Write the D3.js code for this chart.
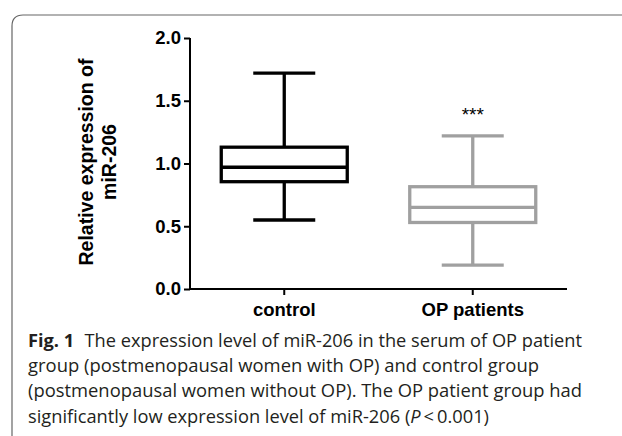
<!DOCTYPE html>
<html>
<head>
<meta charset="utf-8">
<script src="https://cdn.jsdelivr.net/npm/d3@7"></script>
<style>
  body { margin:0; background:#fff; }
  svg { display:block; }
</style>
</head>
<body>
<div id="viz-container"></div>
<script>
// data
var groups = ["control", "OP patients"];
var whiskerMin = [0.55, 0.19];
var q1 = [0.855, 0.53];
var medians = [0.97, 0.65];
var q3 = [1.13, 0.815];
var whiskerMax = [1.72, 1.22];
var groupColors = ["#000000", "#a0a0a0"];
var yTicks = [0, 0.5, 1.0, 1.5, 2.0];
var sigLabels = ["", "***"];
var caption = [
  "The expression level of miR-206 in the serum of OP patient",
  "group (postmenopausal women with OP) and control group",
  "(postmenopausal women without OP). The OP patient group had",
  "significantly low expression level of miR-206 ("
];

var W = 622, H = 436;
var svg = d3.select('#viz-container')
  .append('svg')
    .attr('width', W)
    .attr('height', H);

// frame with rounded top-left corner
svg.append('path')
  .attr('d', 'M12,436 L12,26 Q12,15 23,15 L622,15')
  .attr('fill', 'none')
  .attr('stroke', '#666')
  .attr('stroke-width', 1.2);

var data = groups.map(function(g, i){
  return {name:g, min:whiskerMin[i], q1:q1[i], med:medians[i], q3:q3[i], max:whiskerMax[i], color:groupColors[i], sig:sigLabels[i]};
});

var yScale = d3.scaleLinear().domain([0, 2]).range([289, 38]);
var xScale = d3.scaleBand().domain(groups).range([190, 567]).paddingInner(0.5).paddingOuter(0.25);

var yAxis = d3.axisLeft(yScale)
  .tickValues(yTicks)
  .tickFormat(d3.format('.1f'))
  .tickSize(6)
  .tickSizeOuter(0);

var xAxis = d3.axisBottom(xScale).tickSize(6).tickSizeOuter(0);

var gy = svg.append('g')
  .attr('transform', 'translate(190,0)')
  .call(yAxis);
var gx = svg.append('g')
  .attr('transform', 'translate(0,289)')
  .call(xAxis);

[gx, gy].forEach(function(g){
  g.select('.domain').attr('stroke', '#000').attr('stroke-width', 2);
  g.selectAll('.tick line').attr('stroke', '#000').attr('stroke-width', 2);
  g.selectAll('.tick text')
    .attr('fill', '#000')
    .style('font-family', 'Liberation Sans, Arial, sans-serif')
    .style('font-weight', 'bold')
    .style('font-size', '18.5px');
});
gy.selectAll('.tick text').attr('x', -9);
gx.selectAll('.tick text').attr('y', 14);
// extend x axis line to meet y axis
gx.select('.domain').attr('d', 'M190,0H567');
gy.select('.domain').attr('d', 'M0,38V290');

// y axis title
var yt = svg.append('text')
  .attr('transform', 'translate(93,162) rotate(-90)')
  .attr('text-anchor', 'middle')
  .style('font-family', 'Liberation Sans, Arial, sans-serif')
  .style('font-weight', 'bold')
  .style('font-size', '19.5px');
yt.append('tspan').attr('x', 0).attr('y', 0).text('Relative expression of');
yt.append('tspan').attr('x', 0).attr('y', 23).text('miR-206');

// boxes
var boxW = 126, capW = 62;
var boxes = svg.selectAll('g.box')
  .data(data)
  .enter()
  .append('g')
    .attr('class', 'box')
    .attr('transform', function(d){ return 'translate(' + (xScale(d.name) + xScale.bandwidth()/2) + ',0)'; });

boxes.each(function(d){
  var g = d3.select(this);
  var sw = 3.3;
  g.append('line').attr('x1', 0).attr('x2', 0).attr('y1', yScale(d.max)).attr('y2', yScale(d.q3))
    .attr('stroke', d.color).attr('stroke-width', sw);
  g.append('line').attr('x1', 0).attr('x2', 0).attr('y1', yScale(d.q1)).attr('y2', yScale(d.min))
    .attr('stroke', d.color).attr('stroke-width', sw);
  g.append('line').attr('x1', -capW/2).attr('x2', capW/2).attr('y1', yScale(d.max)).attr('y2', yScale(d.max))
    .attr('stroke', d.color).attr('stroke-width', sw);
  g.append('line').attr('x1', -capW/2).attr('x2', capW/2).attr('y1', yScale(d.min)).attr('y2', yScale(d.min))
    .attr('stroke', d.color).attr('stroke-width', sw);
  g.append('rect').attr('x', -boxW/2).attr('width', boxW)
    .attr('y', yScale(d.q3)).attr('height', yScale(d.q1) - yScale(d.q3))
    .attr('fill', 'none').attr('stroke', d.color).attr('stroke-width', sw);
  g.append('line').attr('x1', -boxW/2).attr('x2', boxW/2).attr('y1', yScale(d.med)).attr('y2', yScale(d.med))
    .attr('stroke', d.color).attr('stroke-width', sw);
  if (d.sig) {
    g.append('text').attr('x', 0).attr('y', yScale(d.max) - 15)
      .attr('text-anchor', 'middle')
      .style('font-family', 'Liberation Sans, Arial, sans-serif')
      .style('font-size', '19px')
      .attr('fill', '#000')
      .text(d.sig);
  }
});

// caption
var cap = svg.append('g')
  .style('font-family', 'Open Sans, Noto Sans, sans-serif')
  .style('font-size', '17.5px')
  .attr('fill', '#231f20');
var lineY = [347, 372, 397, 423];
var lineW = [554, 511, 554, 461];
var t0 = cap.append('text').attr('x', 28).attr('y', lineY[0])
  .attr('textLength', lineW[0]).attr('lengthAdjust', 'spacingAndGlyphs');
t0.append('tspan').style('font-weight', 'bold').text('Fig. 1');
t0.append('tspan').attr('dx', 10).text(caption[0]);
for (var i = 1; i < caption.length; i++) {
  var t = cap.append('text').attr('x', 28).attr('y', lineY[i])
    .attr('textLength', lineW[i]).attr('lengthAdjust', 'spacingAndGlyphs');
  t.append('tspan').text(caption[i]);
  if (i === caption.length - 1) {
    t.append('tspan').style('font-style', 'italic').text('P');
    t.append('tspan').text('\u2009<\u20090.001)');
  }
}
</script>
</body>
</html>
